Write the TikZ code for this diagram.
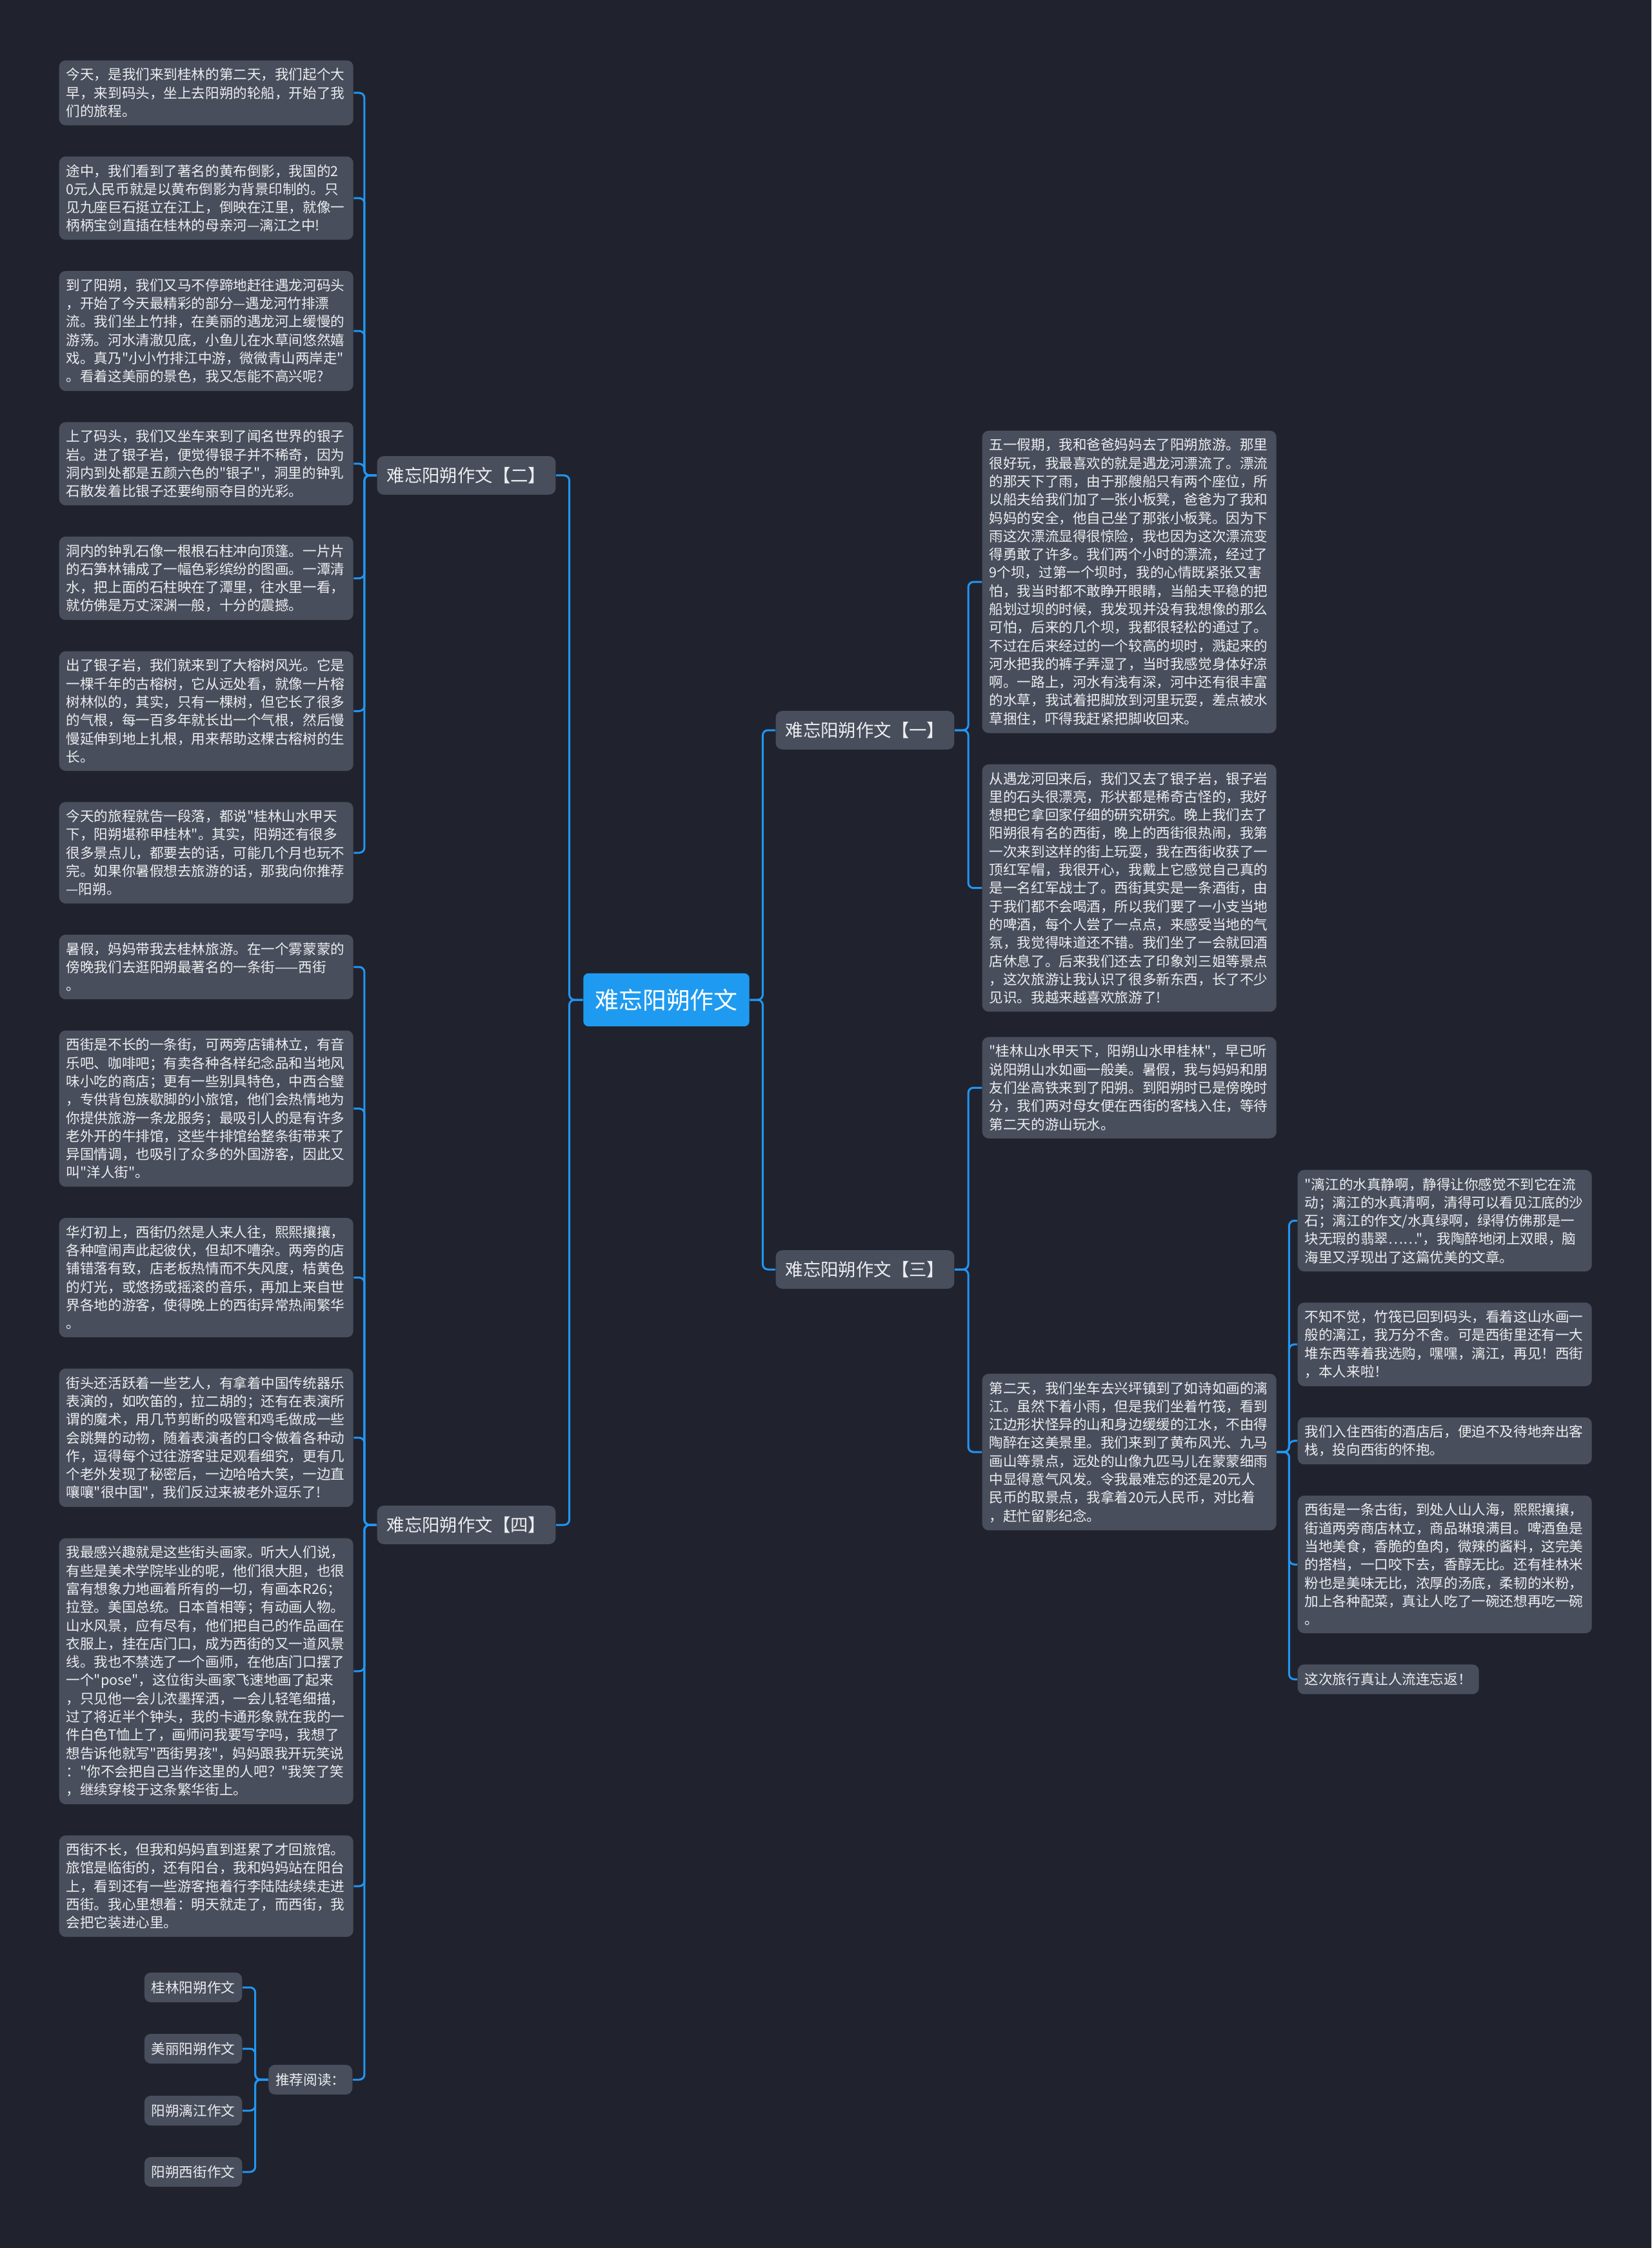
\documentclass[tikz,border=0pt]{standalone}
\usepackage{fontspec}
\newfontfamily\cjk{Noto Sans CJK SC}
\usetikzlibrary{positioning}
\definecolor{bgdark}{RGB}{32,35,46}
\definecolor{boxgray}{RGB}{73,78,92}
\definecolor{linkblue}{RGB}{33,150,243}
\definecolor{rootblue}{RGB}{30,155,240}
\definecolor{txtlight}{RGB}{236,237,240}

\begin{document}
\begin{tikzpicture}[
    txt/.style={fill=boxgray, rounded corners=0.1cm, text=txtlight, font=\cjk\fontsize{6.14}{8.05}\selectfont, align=left, text width=4.34cm, inner xsep=0.11cm, inner ysep=0.12cm},
    leaf/.style={fill=boxgray, rounded corners=0.1cm, text=txtlight, font=\cjk\fontsize{6.14}{8.05}\selectfont, inner xsep=0.11cm, inner ysep=0.13cm},
    branch/.style={fill=boxgray, rounded corners=0.1cm, text=txtlight, font=\cjk\fontsize{7.8}{9}\selectfont, inner xsep=0.15cm, inner ysep=0.17cm},
    rootbox/.style={fill=rootblue, rounded corners=0.08cm, text=white, font=\cjk\fontsize{10.5}{12}\selectfont, inner xsep=0.18cm, inner ysep=0.24cm},
    link/.style={draw=linkblue, line width=0.03cm, rounded corners=0.08cm},
    node distance=0.47cm
]
    % Background
    \fill[bgdark] (0,0) rectangle (25.6,-34.85);
    \useasboundingbox (0,0) rectangle (25.6,-34.85);

    % Root
    \node[rootbox] (root) at (10.33,-15.50) {难忘阳朔作文};

    % Branches
    \node[branch] (br2) at (7.23,-7.37) {难忘阳朔作文【二】};
    \node[branch] (br4) at (7.23,-23.64) {难忘阳朔作文【四】};
    \node[branch] (br1) at (13.41,-11.32) {难忘阳朔作文【一】};
    \node[branch] (br3) at (13.41,-19.68) {难忘阳朔作文【三】};

    % Branch two
    \node[txt, anchor=north west] (a1) at (0.91,-0.93) {今天，是我们来到桂林的第二天，我们起个大\\早，来到码头，坐上去阳朔的轮船，开始了我\\们的旅程。};
    \node[txt, below=of a1] (a2) {途中，我们看到了著名的黄布倒影，我国的2\\0元人民币就是以黄布倒影为背景印制的。只\\见九座巨石挺立在江上，倒映在江里，就像一\\柄柄宝剑直插在桂林的母亲河—漓江之中!};
    \node[txt, below=of a2] (a3) {到了阳朔，我们又马不停蹄地赶往遇龙河码头\\，开始了今天最精彩的部分—遇龙河竹排漂\\流。我们坐上竹排，在美丽的遇龙河上缓慢的\\游荡。河水清澈见底，小鱼儿在水草间悠然嬉\\戏。真乃"小小竹排江中游，微微青山两岸走"\\。看着这美丽的景色，我又怎能不高兴呢?};
    \node[txt, below=of a3] (a4) {上了码头，我们又坐车来到了闻名世界的银子\\岩。进了银子岩，便觉得银子并不稀奇，因为\\洞内到处都是五颜六色的"银子"，洞里的钟乳\\石散发着比银子还要绚丽夺目的光彩。};
    \node[txt, below=of a4] (a5) {洞内的钟乳石像一根根石柱冲向顶篷。一片片\\的石笋林铺成了一幅色彩缤纷的图画。一潭清\\水，把上面的石柱映在了潭里，往水里一看，\\就仿佛是万丈深渊一般，十分的震撼。};
    \node[txt, below=of a5] (a6) {出了银子岩，我们就来到了大榕树风光。它是\\一棵千年的古榕树，它从远处看，就像一片榕\\树林似的，其实，只有一棵树，但它长了很多\\的气根，每一百多年就长出一个气根，然后慢\\慢延伸到地上扎根，用来帮助这棵古榕树的生\\长。};
    \node[txt, below=of a6] (a7) {今天的旅程就告一段落，都说"桂林山水甲天\\下，阳朔堪称甲桂林"。其实，阳朔还有很多\\很多景点儿，都要去的话，可能几个月也玩不\\完。如果你暑假想去旅游的话，那我向你推荐\\—阳朔。};

    % Branch four
    \node[txt, below=of a7] (d1) {暑假，妈妈带我去桂林旅游。在一个雾蒙蒙的\\傍晚我们去逛阳朔最著名的一条街——西街\\。};
    \node[txt, below=of d1] (d2) {西街是不长的一条街，可两旁店铺林立，有音\\乐吧、咖啡吧；有卖各种各样纪念品和当地风\\味小吃的商店；更有一些别具特色，中西合璧\\，专供背包族歇脚的小旅馆，他们会热情地为\\你提供旅游一条龙服务；最吸引人的是有许多\\老外开的牛排馆，这些牛排馆给整条街带来了\\异国情调，也吸引了众多的外国游客，因此又\\叫"洋人街"。};
    \node[txt, below=of d2] (d3) {华灯初上，西街仍然是人来人往，熙熙攘攘，\\各种喧闹声此起彼伏，但却不嘈杂。两旁的店\\铺错落有致，店老板热情而不失风度，桔黄色\\的灯光，或悠扬或摇滚的音乐，再加上来自世\\界各地的游客，使得晚上的西街异常热闹繁华\\。};
    \node[txt, below=of d3] (d4) {街头还活跃着一些艺人，有拿着中国传统器乐\\表演的，如吹笛的，拉二胡的；还有在表演所\\谓的魔术，用几节剪断的吸管和鸡毛做成一些\\会跳舞的动物，随着表演者的口令做着各种动\\作，逗得每个过往游客驻足观看细究，更有几\\个老外发现了秘密后，一边哈哈大笑，一边直\\嚷嚷"很中国"，我们反过来被老外逗乐了!};
    \node[txt, below=of d4] (d5) {我最感兴趣就是这些街头画家。听大人们说，\\有些是美术学院毕业的呢，他们很大胆，也很\\富有想象力地画着所有的一切，有画本R26；\\拉登。美国总统。日本首相等；有动画人物。\\山水风景，应有尽有，他们把自己的作品画在\\衣服上，挂在店门口，成为西街的又一道风景\\线。我也不禁选了一个画师，在他店门口摆了\\一个"pose"，这位街头画家飞速地画了起来\\，只见他一会儿浓墨挥洒，一会儿轻笔细描，\\过了将近半个钟头，我的卡通形象就在我的一\\件白色T恤上了，画师问我要写字吗，我想了\\想告诉他就写"西街男孩"，妈妈跟我开玩笑说\\："你不会把自己当作这里的人吧？"我笑了笑\\，继续穿梭于这条繁华街上。};
    \node[txt, below=of d5] (d6) {西街不长，但我和妈妈直到逛累了才回旅馆。\\旅馆是临街的，还有阳台，我和妈妈站在阳台\\上，看到还有一些游客拖着行李陆陆续续走进\\西街。我心里想着：明天就走了，而西街，我\\会把它装进心里。};

    % Recommended reading
    \node[leaf, anchor=east] (r0) at (5.47,-32.24) {推荐阅读：};
    \node[leaf, anchor=east] (r1) at (3.76,-30.81) {桂林阳朔作文};
    \node[leaf, anchor=east] (r2) at (3.76,-31.76) {美丽阳朔作文};
    \node[leaf, anchor=east] (r3) at (3.76,-32.72) {阳朔漓江作文};
    \node[leaf, anchor=east] (r4) at (3.76,-33.67) {阳朔西街作文};

    % Branch one
    \node[txt, anchor=north west] (o1) at (15.22,-6.67) {五一假期，我和爸爸妈妈去了阳朔旅游。那里\\很好玩，我最喜欢的就是遇龙河漂流了。漂流\\的那天下了雨，由于那艘船只有两个座位，所\\以船夫给我们加了一张小板凳，爸爸为了我和\\妈妈的安全，他自己坐了那张小板凳。因为下\\雨这次漂流显得很惊险，我也因为这次漂流变\\得勇敢了许多。我们两个小时的漂流，经过了\\9个坝，过第一个坝时，我的心情既紧张又害\\怕，我当时都不敢睁开眼睛，当船夫平稳的把\\船划过坝的时候，我发现并没有我想像的那么\\可怕，后来的几个坝，我都很轻松的通过了。\\不过在后来经过的一个较高的坝时，溅起来的\\河水把我的裤子弄湿了，当时我感觉身体好凉\\啊。一路上，河水有浅有深，河中还有很丰富\\的水草，我试着把脚放到河里玩耍，差点被水\\草捆住，吓得我赶紧把脚收回来。};
    \node[txt, below=of o1] (o2) {从遇龙河回来后，我们又去了银子岩，银子岩\\里的石头很漂亮，形状都是稀奇古怪的，我好\\想把它拿回家仔细的研究研究。晚上我们去了\\阳朔很有名的西街，晚上的西街很热闹，我第\\一次来到这样的街上玩耍，我在西街收获了一\\顶红军帽，我很开心，我戴上它感觉自己真的\\是一名红军战士了。西街其实是一条酒街，由\\于我们都不会喝酒，所以我们要了一小支当地\\的啤酒，每个人尝了一点点，来感受当地的气\\氛，我觉得味道还不错。我们坐了一会就回酒\\店休息了。后来我们还去了印象刘三姐等景点\\，这次旅游让我认识了很多新东西，长了不少\\见识。我越来越喜欢旅游了!};

    % Branch three
    \node[txt, anchor=north west] (t1) at (15.22,-16.07) {"桂林山水甲天下，阳朔山水甲桂林"，早已听\\说阳朔山水如画一般美。暑假，我与妈妈和朋\\友们坐高铁来到了阳朔。到阳朔时已是傍晚时\\分，我们两对母女便在西街的客栈入住，等待\\第二天的游山玩水。};
    \node[txt, anchor=north west] (t2) at (15.22,-21.29) {第二天，我们坐车去兴坪镇到了如诗如画的漓\\江。虽然下着小雨，但是我们坐着竹筏，看到\\江边形状怪异的山和身边缓缓的江水，不由得\\陶醉在这美景里。我们来到了黄布风光、九马\\画山等景点，远处的山像九匹马儿在蒙蒙细雨\\中显得意气风发。令我最难忘的还是20元人\\民币的取景点，我拿着20元人民币，对比着\\，赶忙留影纪念。};

    % Second day children
    \node[txt, anchor=north west] (s1) at (20.11,-18.13) {"漓江的水真静啊，静得让你感觉不到它在流\\动；漓江的水真清啊，清得可以看见江底的沙\\石；漓江的作文/水真绿啊，绿得仿佛那是一\\块无瑕的翡翠……"，我陶醉地闭上双眼，脑\\海里又浮现出了这篇优美的文章。};
    \node[txt, below=of s1] (s2) {不知不觉，竹筏已回到码头，看着这山水画一\\般的漓江，我万分不舍。可是西街里还有一大\\堆东西等着我选购，嘿嘿，漓江，再见！西街\\，本人来啦！};
    \node[txt, below=of s2] (s3) {我们入住西街的酒店后，便迫不及待地奔出客\\栈，投向西街的怀抱。};
    \node[txt, below=of s3] (s4) {西街是一条古街，到处人山人海，熙熙攘攘，\\街道两旁商店林立，商品琳琅满目。啤酒鱼是\\当地美食，香脆的鱼肉，微辣的酱料，这完美\\的搭档，一口咬下去，香醇无比。还有桂林米\\粉也是美味无比，浓厚的汤底，柔韧的米粉，\\加上各种配菜，真让人吃了一碗还想再吃一碗\\。};
    \node[leaf, below=of s4.south west, anchor=north west] (s5) {这次旅行真让人流连忘返！};

    % Links from root
    \draw[link] (root.west) -- ++(-0.21,0) |- (br2.east);
    \draw[link] (root.west) -- ++(-0.21,0) |- (br4.east);
    \draw[link] (root.east) -- ++(0.2,0) |- (br1.west);
    \draw[link] (root.east) -- ++(0.2,0) |- (br3.west);

    % Links of branch two and four
    \foreach \i in {1,...,7}
        \draw[link] (br2.west) -- ++(-0.19,0) |- (a\i.east);
    \foreach \i in {1,...,6}
        \draw[link] (br4.west) -- ++(-0.19,0) |- (d\i.east);
    \draw[link] (br4.west) -- ++(-0.19,0) |- (r0.east);
    \foreach \i in {1,...,4}
        \draw[link] (r0.west) -- ++(-0.2,0) |- (r\i.east);

    % Links of branch one and three
    \foreach \i in {1,2}
        \draw[link] (br1.east) -- ++(0.21,0) |- (o\i.west);
    \foreach \i in {1,2}
        \draw[link] (br3.east) -- ++(0.21,0) |- (t\i.west);
    \foreach \i in {1,...,5}
        \draw[link] (t2.east) -- ++(0.19,0) |- (s\i.west);
\end{tikzpicture}
\end{document}
